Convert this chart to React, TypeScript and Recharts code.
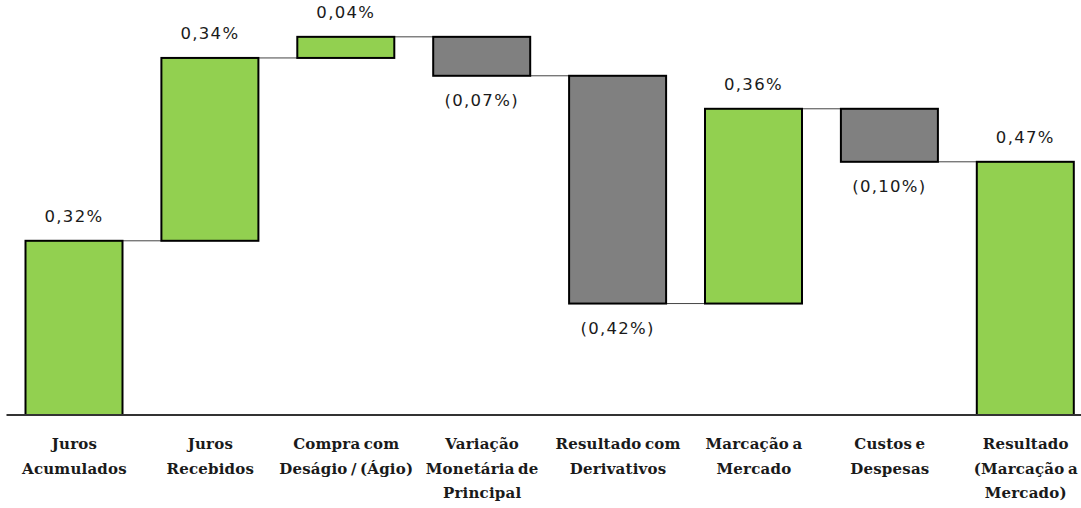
import React from "react";
import { BarChart, Bar, XAxis, YAxis } from "recharts";

const categories = [
  "Juros\nAcumulados",
  "Juros\nRecebidos",
  "Compra com\nDeságio / (Ágio)",
  "Variação\nMonetária de\nPrincipal",
  "Resultado com\nDerivativos",
  "Marcação a\nMercado",
  "Custos e\nDespesas",
  "Resultado\n(Marcação a\nMercado)",
];
// deltas (percent points); totals flagged
const deltas = [0.322, 0.338, 0.039, -0.072, -0.421, 0.36, -0.098, 0.468];
const isTotal = [true, false, false, false, false, false, false, true];
const valueLabels = ["0,32%", "0,34%", "0,04%", "(0,07%)", "(0,42%)", "0,36%", "(0,10%)", "0,47%"];

const GREEN = "#92D050";
const GRAY = "#808080";

const W = 1081;
const H = 508;
const M_LEFT = 6.5;
const M_RIGHT = -12.7;
const BAR = 97;
const N = categories.length;
const BAND = (W - M_LEFT - M_RIGHT) / N;

const rows = (() => {
  let level = 0;
  return categories.map((c, i) => {
    let low: number, high: number;
    if (isTotal[i]) {
      low = 0;
      high = deltas[i];
      level = deltas[i];
    } else {
      const start = level;
      const end = level + deltas[i];
      low = Math.min(start, end);
      high = Math.max(start, end);
      level = end;
    }
    return { name: c, range: [low, high], delta: deltas[i], idx: i };
  });
})();

const BarShape = (props: any) => {
  const { x, y, width, height, payload } = props;
  const i = payload.idx;
  const up = payload.delta >= 0;
  const endY = up ? y : y + height;
  const label = valueLabels[i];
  const labelY = up ? y - 24 : y + height + 25;
  return (
    <g>
      {i < N - 1 && (
        <line
          x1={x + width}
          x2={x + BAND}
          y1={endY}
          y2={endY}
          stroke="#444"
          strokeWidth={1}
        />
      )}
      <rect
        x={x}
        y={y}
        width={width}
        height={height}
        fill={up ? GREEN : GRAY}
        stroke="#000"
        strokeWidth={2}
      />
      <text
        x={x + width / 2}
        y={labelY}
        textAnchor="middle"
        dominantBaseline="central"
        fontFamily="DejaVu Sans, Verdana, sans-serif"
        fontSize={16.5}
        letterSpacing={1.3}
        fill="#1a1a1a"
      >
        {label}
      </text>
    </g>
  );
};

const CatTick = (props: any) => {
  const { x, y, payload } = props;
  const lines = String(payload.value).split("\n");
  return (
    <g transform={`translate(${x},${y})`}>
      <text
        textAnchor="middle"
        fontFamily="DejaVu Serif, serif"
        fontWeight="bold"
        fontSize={15}
        letterSpacing={0.2}
        wordSpacing={-2}
        fill="#1a1a1a"
      >
        {lines.map((l, k) => (
          <tspan key={k} x={0} y={26 + k * 24.5}>
            {l}
          </tspan>
        ))}
      </text>
    </g>
  );
};

export default function App() {
  return (
    <div style={{ position: "absolute", left: 0, top: 0, width: W, height: H, overflow: "hidden", background: "#fff" }}>
      <BarChart
        width={W}
        height={H}
        data={rows}
        margin={{ top: 9.25, right: M_RIGHT, bottom: 0, left: M_LEFT }}
        barSize={BAR}
      >
        <XAxis
          dataKey="name"
          height={93}
          tickLine={false}
          axisLine={{ stroke: "#333", strokeWidth: 2 }}
          tick={<CatTick />}
          interval={0}
        />
        <YAxis hide domain={[0, 0.75]} />
        <Bar dataKey="range" shape={<BarShape />} isAnimationActive={false} />
      </BarChart>
    </div>
  );
}
